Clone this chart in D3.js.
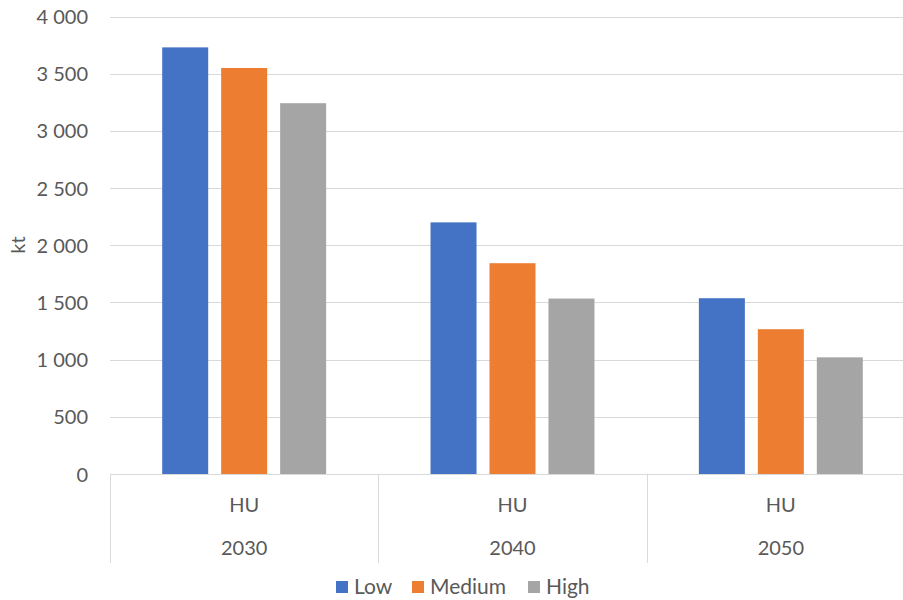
<!DOCTYPE html>
<html><head><meta charset="utf-8">
<script src="https://cdn.jsdelivr.net/npm/d3@7"></script>
<style>
html,body{margin:0;padding:0;background:#fff;}
svg text{font-family:Lato, "Noto Sans", sans-serif;fill:#595959;}
</style></head>
<body><svg id="chart" width="903" height="600"></svg>
<script>
const years = ["2030", "2040", "2050"];
const country = "HU";
const seriesNames = ["Low", "Medium", "High"];
const lowValues = [3730, 2200, 1537];
const mediumValues = [3550, 1843, 1266];
const highValues = [3242, 1534, 1020];
const yTicks = [0, 500, 1000, 1500, 2000, 2500, 3000, 3500, 4000];
const colors = ["#4472C4", "#ED7D31", "#A5A5A5"];
const yLabel = "kt";

const seriesValues = [lowValues, mediumValues, highValues];
const svg = d3.select("#chart");
const plotLeft = 110, plotRight = 915, plotTop = 16.5, plotBottom = 474;

const x0 = d3.scaleBand().domain(years).range([plotLeft, plotRight]).padding(0);
const x1 = d3.scaleBand().domain(seriesNames).range([0, x0.bandwidth()]).paddingInner(0.22).paddingOuter(0.885);
const y = d3.scaleLinear().domain([0, 4000]).range([plotBottom, plotTop]);
const loc = d3.formatLocale({decimal: ",", thousands: "\u00a0", grouping: [3], currency: ["", ""]});
const fmt = loc.format(",d");

// gridlines
svg.append("g").selectAll("line").data(yTicks.filter(d => d > 0)).join("line")
  .attr("x1", plotLeft).attr("x2", 903)
  .attr("y1", d => Math.round(y(d)) + 0.5).attr("y2", d => Math.round(y(d)) + 0.5)
  .attr("stroke", "#d9d9d9").attr("stroke-width", 1);

// y axis labels
const yAxis = d3.axisLeft(y).tickValues(yTicks).tickFormat(fmt).tickSize(0).tickPadding(0);
const gy = svg.append("g").attr("transform", `translate(88,0)`).call(yAxis);
gy.select(".domain").remove();
gy.selectAll("text").style("font-size", "20px").style("font-family", "Lato, 'Noto Sans', sans-serif").attr("fill", "#595959").attr("dy", "0.35em");

// bars
const groups = svg.append("g").selectAll("g").data(years).join("g")
  .attr("transform", d => `translate(${x0(d)},0)`);
groups.selectAll("rect").data((yr, i) => seriesNames.map((s, j) => ({s, v: seriesValues[j][i], c: colors[j]})))
  .join("rect")
  .attr("x", d => x1(d.s)).attr("width", x1.bandwidth())
  .attr("y", d => y(d.v)).attr("height", d => y(0) - y(d.v))
  .attr("fill", d => d.c);

// x axis line
svg.append("line").attr("x1", plotLeft).attr("x2", 903).attr("y1", plotBottom + 0.5).attr("y2", plotBottom + 0.5)
  .attr("stroke", "#d9d9d9");
// category separators
const seps = years.map(d => x0(d)).concat([x0(years[years.length - 1]) + x0.bandwidth()]);
svg.append("g").selectAll("line").data(seps).join("line")
  .attr("x1", d => Math.round(d) + 0.5).attr("x2", d => Math.round(d) + 0.5)
  .attr("y1", plotBottom).attr("y2", 563)
  .attr("stroke", "#d9d9d9");

// category labels
const xl = svg.append("g");
xl.selectAll("text.hu").data(years).join("text").attr("class", "hu")
  .attr("x", d => x0(d) + x0.bandwidth() / 2).attr("y", 505).attr("dy", "0.35em")
  .attr("text-anchor", "middle").style("font-size", "20px").text(country);
xl.selectAll("text.yr").data(years).join("text").attr("class", "yr")
  .attr("x", d => x0(d) + x0.bandwidth() / 2).attr("y", 548).attr("dy", "0.35em")
  .attr("text-anchor", "middle").style("font-size", "20px").text(d => d);

// y label
svg.append("text").attr("transform", "translate(18,245) rotate(-90)")
  .attr("text-anchor", "middle").attr("dy", "0.35em").style("font-size", "20px").text(yLabel);

// legend
const legendX = [336, 412, 528];
const lg = svg.append("g").selectAll("g").data(seriesNames).join("g")
  .attr("transform", (d, i) => `translate(${legendX[i]},581)`);
lg.append("rect").attr("width", 12).attr("height", 12).attr("fill", (d, i) => colors[i]);
lg.append("text").attr("x", 18).attr("y", 6).attr("dy", "0.35em").style("font-size", "21px").text(d => d);
</script></body></html>
